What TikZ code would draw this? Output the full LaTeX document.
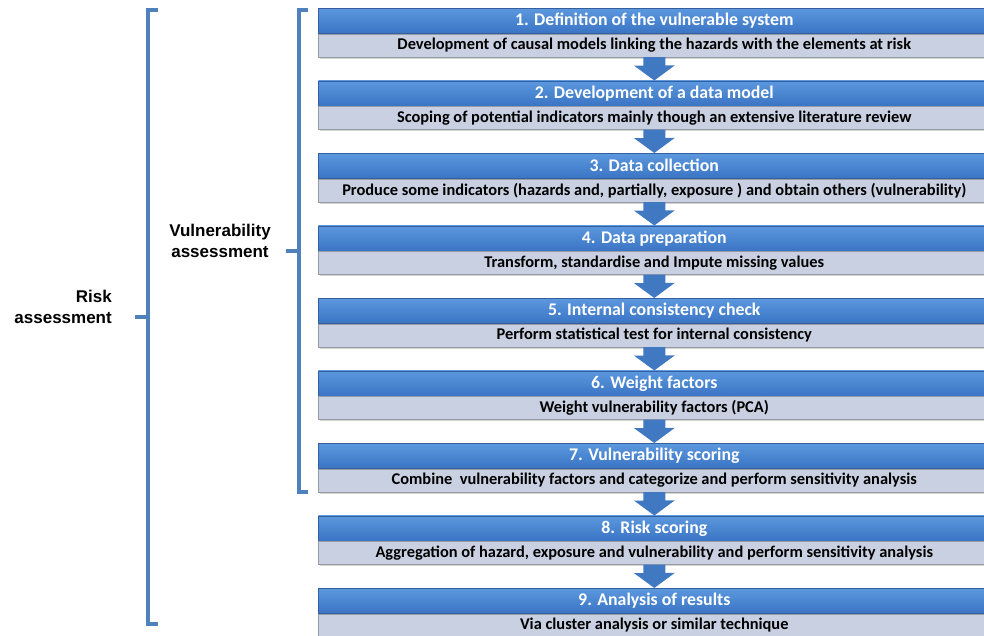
\documentclass[tikz,border=0pt]{standalone}
\usepackage{fontspec}
\setmainfont{Carlito}
\newfontfamily\lab{Liberation Sans}
\usetikzlibrary{arrows.meta,shadows}
\definecolor{bluetop}{RGB}{92,152,222}
\definecolor{bluebot}{RGB}{58,116,196}
\definecolor{blueedge}{RGB}{52,96,160}
\definecolor{graybox}{RGB}{200,208,225}
\definecolor{grayedge}{RGB}{150,155,165}
\definecolor{bracecol}{RGB}{79,129,189}
\definecolor{arrowcol}{RGB}{64,120,194}
\tikzset{
  titlebox/.style={rectangle, anchor=north west, minimum width=672pt, minimum height=25pt,
    inner sep=0pt, top color=bluetop, bottom color=bluebot, draw=blueedge, line width=0.6pt,
    text=white, font=\bfseries\fontsize{17.8}{20}\selectfont,
    drop shadow={shadow xshift=1.5pt, shadow yshift=-2pt, opacity=0.35}},
  subbox/.style={rectangle, anchor=north west, minimum width=672pt, minimum height=23pt,
    inner sep=0pt, fill=graybox, draw=grayedge, line width=0.5pt,
    text=black, font=\bfseries\fontsize{16.4}{18}\selectfont,
    drop shadow={shadow xshift=1.5pt, shadow yshift=-2pt, opacity=0.35}},
  flowarrow/.style={draw=arrowcol, line width=22pt, -{Triangle[width=40pt,length=15pt]}},
  bracket/.style={draw=bracecol, line width=3.5pt},
  sidelabel/.style={font=\lab\bfseries\fontsize{17}{21}\selectfont, inner sep=0pt}
}
\begin{document}
\begin{tikzpicture}[x=1pt,y=-1pt]
\useasboundingbox (0,0) rectangle (984,635);
% boxes
\node[titlebox] (t1) at (318,8) {1. Definition of the vulnerable system};
\node[subbox] (s1) at (t1.south west) {Development of causal models linking the hazards with the elements at risk};
\node[titlebox] (t2) at (318,80.5) {2. Development of a data model};
\node[subbox] (s2) at (t2.south west) {Scoping of potential indicators mainly though an extensive literature review};
\node[titlebox] (t3) at (318,153) {3. Data collection};
\node[subbox] (s3) at (t3.south west) {Produce some indicators (hazards and, partially, exposure ) and obtain others (vulnerability)};
\node[titlebox] (t4) at (318,225.5) {4. Data preparation};
\node[subbox] (s4) at (t4.south west) {Transform, standardise and Impute missing values};
\node[titlebox] (t5) at (318,298) {5. Internal consistency check};
\node[subbox] (s5) at (t5.south west) {Perform statistical test for internal consistency};
\node[titlebox] (t6) at (318,370.5) {6. Weight factors};
\node[subbox] (s6) at (t6.south west) {Weight vulnerability factors (PCA)};
\node[titlebox] (t7) at (318,443) {7. Vulnerability scoring};
\node[subbox] (s7) at (t7.south west) {Combine\ \ vulnerability factors and categorize and perform sensitivity analysis};
\node[titlebox] (t8) at (318,515.5) {8. Risk scoring};
\node[subbox] (s8) at (t8.south west) {Aggregation of hazard, exposure and vulnerability and perform sensitivity analysis};
\node[titlebox] (t9) at (318,588) {9. Analysis of results};
\node[subbox] (s9) at (t9.south west) {Via cluster analysis or similar technique};
% arrows
\foreach \a/\b in {1/2,2/3,3/4,4/5,5/6,6/7,7/8,8/9}
  \draw[flowarrow] (s\a.south) -- (t\b.north);
% brackets
\coordinate (vtop) at (308,10);
\coordinate (vbot) at (308,492);
\coordinate (vtick) at (286,251);
\draw[bracket] (vtop) -- (299,10) -- (299,492) -- (vbot);
\draw[bracket] (299,251) -- (vtick);
\coordinate (rtop) at (158,10);
\coordinate (rbot) at (158,624);
\coordinate (rtick) at (135,317);
\draw[bracket] (rtop) -- (148,10) -- (148,624) -- (rbot);
\draw[bracket] (148,317) -- (rtick);
% labels
\node[sidelabel, align=center] (vlab) at (220,241) {Vulnerability\\assessment};
\node[sidelabel, align=right, anchor=east] (rlab) at (112,307) {Risk\\assessment};
\end{tikzpicture}
\end{document}
